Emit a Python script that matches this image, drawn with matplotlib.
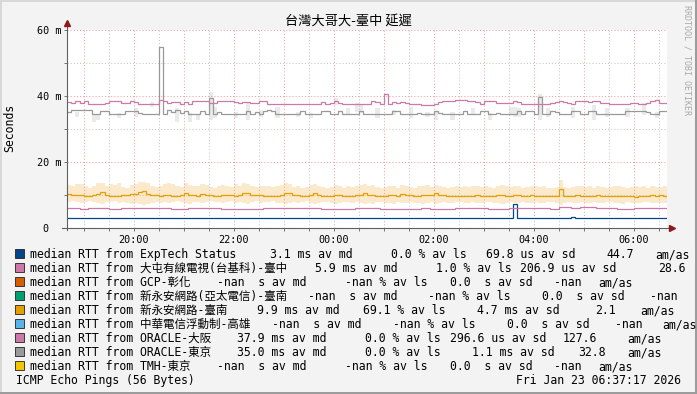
import matplotlib
matplotlib.use("Agg")
import matplotlib.pyplot as plt
import numpy as np
from matplotlib.patches import Rectangle

W, H = 697, 394
MONO = ["DejaVu Sans Mono", "Noto Sans CJK TC"]
plt.rcParams["font.family"] = MONO

# 5-minute steps from 18:40 to 06:40 (hours, >24 = next day)
t_start = 18 + 40 / 60
n_steps = 144

# ORACLE-東京 median (ms)
tokyo = [
    35.2, 35.8, 35.8, 35.8, 35.8, 35.8, 34.6, 34.4, 35.6, 35.6, 34.4, 34.4, 34.4, 34.4, 35.6, 35.6, 35.6, 34.8, 34.6, 34.6, 34.6, 34.4, 55.0, 34.6,
    35.8, 35.2, 35.8, 35.0, 35.4, 34.6, 34.4, 34.6, 35.6, 34.6, 39.4, 34.6, 35.2, 34.4, 34.4, 34.6, 34.4, 34.4, 34.6, 35.6, 34.6, 35.2, 34.4, 35.6,
    35.8, 35.6, 34.6, 34.4, 34.4, 34.4, 34.4, 34.6, 35.6, 34.6, 34.6, 34.4, 34.4, 35.4, 35.4, 34.6, 34.6, 35.4, 34.4, 34.4, 34.6, 34.6, 35.4, 34.4,
    34.4, 34.6, 34.4, 34.4, 34.4, 34.4, 35.6, 35.6, 34.6, 34.4, 34.4, 34.4, 35.0, 34.4, 34.4, 34.4, 35.6, 35.0, 34.4, 34.4, 34.4, 34.4, 34.4, 35.4,
    34.4, 34.4, 34.4, 35.6, 35.6, 34.6, 34.6, 35.0, 34.4, 34.4, 34.4, 34.4, 35.6, 34.6, 35.6, 35.6, 34.6, 39.8, 34.6, 34.6, 35.4, 35.2, 34.6, 34.6,
    34.6, 35.6, 35.6, 34.6, 34.6, 35.6, 35.6, 34.4, 34.6, 34.6, 34.4, 34.4, 34.4, 34.6, 35.4, 35.6, 35.6, 35.6, 35.6, 35.2, 34.4, 34.6, 35.4, 35.4,
]
# ORACLE-東京 smoke bars: step index, low, high (ms)
tokyo_smoke_idx = [2, 6, 7, 12, 16, 20, 26, 29, 31, 34, 35, 40, 43, 46, 50, 55, 58, 64, 67, 69,
                   70, 74, 78, 82, 86, 88, 92, 97, 101, 106, 107, 108, 113, 115, 121, 126, 129, 134, 138, 141]
tokyo_smoke_lo = [33.7, 32.2, 32.7, 33.2, 33.7, 36.8, 32.2, 32.2, 32.7, 32.7, 33.2, 33.2, 32.7, 33.7, 33.2, 33.7, 33.2, 37.3, 34.2, 35.3,
                  34.8, 33.2, 34.2, 33.2, 33.7, 32.7, 32.7, 34.2, 32.7, 34.2, 33.7, 33.7, 32.6, 33.7, 33.2, 32.7, 33.7, 33.7, 34.2, 33.2]
tokyo_smoke_hi = [35.3, 34.2, 34.2, 34.8, 36.3, 38.3, 36.3, 34.8, 34.2, 41.3, 36.8, 35.3, 37.8, 35.8, 36.8, 35.3, 34.8, 39.3, 36.3, 37.8,
                  37.3, 36.3, 35.8, 36.8, 35.3, 35.3, 35.3, 36.3, 34.8, 36.8, 36.8, 36.3, 40.7, 36.3, 36.8, 37.3, 36.3, 36.3, 37.8, 35.3]

# ORACLE-大阪 median (ms)
osaka = [
    38.3, 37.9, 38.6, 38.0, 38.6, 37.7, 37.5, 37.5, 37.6, 38.0, 38.6, 38.6, 38.6, 38.0, 38.0, 38.6, 38.3, 37.7, 37.6, 37.6, 37.6, 37.6, 38.7, 38.6,
    38.0, 38.3, 38.3, 37.7, 38.3, 37.6, 38.6, 38.6, 38.6, 38.6, 38.0, 38.0, 38.6, 38.6, 38.6, 38.6, 38.3, 38.0, 38.3, 38.3, 38.0, 38.0, 38.6, 38.6,
    37.7, 37.7, 37.7, 37.7, 37.7, 37.7, 37.7, 37.7, 37.7, 37.7, 37.7, 37.7, 37.7, 38.3, 37.7, 38.0, 38.6, 38.0, 37.7, 37.5, 37.7, 37.7, 37.7, 37.7,
    37.7, 38.6, 38.3, 37.7, 40.5, 37.7, 38.3, 38.0, 38.3, 38.0, 37.7, 37.7, 37.7, 37.3, 37.3, 37.3, 37.7, 38.3, 38.6, 38.6, 38.6, 38.7, 38.7, 38.7,
    38.6, 38.6, 38.3, 37.7, 38.6, 38.6, 38.6, 37.9, 37.9, 37.9, 37.9, 38.5, 38.3, 37.7, 37.7, 37.5, 37.5, 37.5, 37.5, 37.5, 38.0, 38.3, 38.6, 38.3,
    38.0, 37.7, 38.6, 38.6, 38.6, 38.3, 38.6, 38.6, 38.0, 38.0, 37.7, 37.7, 37.7, 37.7, 37.7, 37.9, 37.9, 37.7, 37.7, 37.9, 38.6, 38.7, 38.0, 38.0,
]

# 新永安網路-臺南 median and smoke (ms)
tainan = [
    10.3, 10.0, 10.0, 10.0, 9.7, 9.7, 10.0, 10.3, 11.0, 10.0, 9.7, 9.7, 9.7, 10.0, 10.0, 10.4, 10.4, 10.8, 11.2, 10.4, 10.0, 10.0, 9.7, 10.0,
    10.0, 9.7, 9.7, 10.0, 10.6, 10.0, 10.0, 9.7, 10.3, 10.0, 10.0, 9.7, 9.7, 10.0, 10.0, 10.0, 9.7, 10.0, 10.7, 10.7, 10.0, 10.0, 10.0, 9.7,
    9.7, 9.7, 9.7, 10.0, 10.6, 10.6, 10.0, 10.0, 9.7, 9.7, 10.0, 10.6, 10.0, 9.7, 9.7, 9.7, 10.0, 10.0, 9.7, 9.7, 9.7, 10.0, 10.0, 10.6,
    10.0, 10.0, 9.7, 9.7, 9.7, 10.0, 10.0, 9.7, 10.3, 10.0, 10.0, 9.7, 9.7, 10.0, 10.0, 10.0, 10.6, 10.0, 10.0, 9.7, 9.7, 9.7, 9.7, 9.7,
    9.7, 9.7, 10.0, 9.7, 9.7, 9.7, 9.7, 10.0, 10.0, 9.7, 9.7, 10.0, 10.0, 9.7, 9.7, 10.0, 9.7, 9.7, 9.7, 9.7, 9.7, 9.7, 11.8, 9.7,
    9.7, 9.7, 10.0, 9.7, 9.7, 9.7, 9.7, 10.0, 9.7, 9.7, 9.7, 9.7, 9.7, 9.7, 9.7, 9.7, 9.4, 9.7, 9.7, 9.7, 10.0, 9.7, 10.0, 9.7,
]
tainan_hi = [
    13.0, 12.6, 13.3, 13.3, 12.6, 12.0, 12.8, 13.6, 13.6, 12.6, 13.3, 13.0, 13.6, 12.3, 12.0, 13.0, 13.3, 14.0, 14.0, 13.6, 12.6, 12.3, 12.6, 13.3,
    13.6, 13.3, 12.6, 12.3, 13.6, 13.0, 12.6, 12.6, 13.3, 13.0, 12.3, 12.0, 12.6, 13.0, 12.6, 12.3, 13.3, 12.6, 13.6, 13.3, 12.6, 12.3, 12.6, 12.6,
    12.6, 12.3, 12.6, 13.0, 13.6, 13.3, 12.3, 12.6, 12.0, 12.3, 13.0, 13.3, 12.6, 12.3, 12.0, 12.3, 13.0, 12.6, 12.0, 12.6, 12.3, 12.6, 13.0, 13.3,
    12.6, 13.0, 12.3, 12.0, 12.3, 12.6, 12.6, 12.0, 13.0, 12.6, 12.3, 12.0, 12.6, 12.6, 13.0, 12.3, 13.0, 12.6, 12.3, 12.0, 12.3, 12.6, 12.3, 12.6,
    12.3, 12.6, 12.6, 12.3, 12.6, 12.3, 12.0, 12.6, 13.0, 12.6, 12.3, 12.6, 12.6, 12.0, 12.3, 12.6, 12.6, 12.3, 12.6, 12.0, 12.0, 12.3, 14.6, 12.3,
    12.0, 12.3, 12.6, 12.6, 12.3, 12.6, 12.0, 12.6, 12.3, 12.0, 12.3, 12.6, 12.6, 12.3, 12.0, 12.3, 12.6, 12.3, 12.6, 12.0, 12.6, 12.3, 12.3, 12.6,
]
tainan_lo = [
    8.0, 8.3, 8.0, 7.7, 8.0, 8.3, 8.0, 7.7, 7.4, 8.0, 8.0, 8.3, 7.7, 8.0, 7.7, 7.4, 7.7, 7.4, 7.0, 7.4, 7.7, 8.0, 7.7, 8.0,
    7.7, 8.0, 8.3, 8.0, 7.7, 7.4, 8.0, 8.0, 7.7, 8.0, 8.3, 8.0, 8.0, 7.7, 8.0, 8.3, 7.7, 8.0, 7.7, 7.4, 8.0, 8.3, 7.7, 8.0,
    8.0, 8.3, 7.7, 7.7, 7.4, 7.7, 8.0, 7.7, 8.0, 8.3, 7.7, 7.4, 7.7, 8.0, 8.0, 7.7, 7.4, 7.7, 8.0, 8.0, 7.7, 8.0, 7.7, 7.4,
    7.7, 7.4, 8.0, 8.0, 7.7, 7.7, 7.4, 8.0, 7.7, 7.7, 8.0, 7.7, 7.7, 7.4, 7.7, 8.0, 7.4, 7.7, 8.0, 7.7, 7.7, 8.0, 8.0, 7.7,
    7.7, 8.0, 7.7, 7.7, 8.0, 8.0, 7.7, 7.7, 7.4, 7.7, 8.0, 7.7, 7.7, 8.0, 7.7, 7.7, 8.0, 7.7, 7.7, 8.0, 8.0, 7.7, 7.0, 7.7,
    8.0, 7.7, 7.7, 8.0, 7.7, 7.7, 8.0, 7.7, 7.7, 8.0, 8.0, 7.7, 7.7, 7.4, 8.0, 7.7, 7.7, 7.7, 8.0, 8.0, 7.7, 7.7, 7.7, 7.7,
]

# 大屯有線電視 median, as (level, number of steps)
datun_levels = [6.0, 5.7, 6.0, 5.7, 6.0, 5.7, 6.0, 5.7, 6.0, 5.7, 6.0, 5.7, 6.0, 5.7, 6.0, 5.7, 6.0, 5.7, 6.3, 6.0, 6.3, 6.0, 5.7, 6.0]
datun_runs = [3, 2, 5, 3, 12, 4, 8, 10, 14, 8, 6, 10, 2, 6, 8, 5, 10, 2, 3, 2, 4, 5, 4, 8]

# ExpTech Status median, as (level, number of steps)
exptech_levels = [2.95, 7.2, 2.95, 3.3, 2.95]
exptech_runs = [107, 1, 13, 1, 22]

# legend
names = ["ExpTech Status", "大屯有線電視(台基科)-臺中", "GCP-彰化", "新永安網路(亞太電信)-臺南",
         "新永安網路-臺南", "中華電信浮動制-高雄", "ORACLE-大阪", "ORACLE-東京", "TMH-東京"]
colors = ["#00468c", "#cc79a7", "#d55e00", "#009e73", "#e69f00", "#56b4e9", "#cc79a7", "#999999", "#f5c400"]
md_vals = ["3.1 ms", "5.9 ms", "-nan  s", "-nan  s", "9.9 ms", "-nan  s", "37.9 ms", "35.0 ms", "-nan  s"]
ls_vals = ["0.0", "1.0", "-nan", "-nan", "69.1", "-nan", "0.0", "0.0", "-nan"]
sd_vals = ["69.8 us", "206.9 us", "0.0  s", "0.0  s", "4.7 ms", "0.0  s", "296.6 us", "1.1 ms", "0.0  s"]
amas_vals = ["44.7", "28.6", "-nan", "-nan", "2.1", "-nan", "127.6", "32.8", "-nan"]

# pixel x of each legend column, per row (None = cut off at image edge)
md_x = [270, 315, 217, 308, 257, 272, 237, 237, 217]
ls_x = [391, 436, 345, 428, 363, 393, 365, 365, 345]
sd_x = [486, 520, 450, 542, 477, 507, 450, 472, 450]
am_x = [606, 658, 554, 650, 595, 615, 563, 578, 554]
as_x = [655, None, 598, None, 640, 662, 627, 627, 598]

edges = t_start + np.arange(n_steps + 1) / 12


def fx(x):
    return x / W


def fy(y):
    return 1 - y / H


fig = plt.figure(figsize=(W / 100, H / 100), dpi=100)
fig.patch.set_facecolor("#f3f3f3")

ax = fig.add_axes([fx(67), fy(228), 600 / W, 198 / H])
ax.set_facecolor("white")
ax.set_axisbelow("line")

# smoke
ax.stairs(tainan_hi, edges, baseline=tainan_lo, fill=True, color="#fbe9cb", lw=0, zorder=1)
ax.bar(edges[tokyo_smoke_idx], np.array(tokyo_smoke_hi) - np.array(tokyo_smoke_lo),
       bottom=tokyo_smoke_lo, width=1 / 12, align="edge", color="#eaeaea", lw=0, zorder=1)

# medians
lw = 0.9
ax.stairs(np.repeat(exptech_levels, exptech_runs), edges, baseline=None, color=colors[0], lw=lw, zorder=3)
ax.stairs(np.repeat(datun_levels, datun_runs), edges, baseline=None, color=colors[1], lw=lw, zorder=3)
ax.stairs(tainan, edges, baseline=None, color=colors[4], lw=lw, zorder=3)
ax.stairs(tokyo, edges, baseline=None, color=colors[7], lw=lw, zorder=3)
ax.stairs(osaka, edges, baseline=None, color=colors[6], lw=lw, zorder=3)

ax.set_xlim(t_start, t_start + 12)
ax.set_ylim(0, 60)

hours = np.arange(19, 31)
ax.set_xticks(hours)
ax.set_xticklabels([f"{h % 24:02d}:00" if h % 2 == 0 else "" for h in hours])
ax.set_xticks(np.arange(19.5, 31, 1.0), minor=True)
ax.set_yticks([0, 20, 40, 60])
ax.set_yticklabels(["0  ", "20 m", "40 m", "60 m"])
ax.set_yticks([10, 30, 50], minor=True)

dots = (0, (1, 2))
ax.grid(which="major", color="#f4a0a0", linestyle=dots, linewidth=0.75)
ax.grid(which="minor", color="#c6c6c6", linestyle=dots, linewidth=0.75)
ax.tick_params(which="both", length=2, width=0.6, color="#606060", labelsize=7.3, pad=2)
ax.tick_params(axis="x", pad=3)

for s in ax.spines.values():
    s.set_visible(False)
ax.plot([0, 0], [-0.012, 1.03], transform=ax.transAxes, color="#606060", lw=0.8, clip_on=False, zorder=4)
ax.plot([-0.008, 1.008], [0, 0], transform=ax.transAxes, color="#606060", lw=0.8, clip_on=False, zorder=4)
ax.plot([0], [1.035], transform=ax.transAxes, marker="^", ms=4, color="#8b1a1a", clip_on=False, zorder=5)
ax.plot([1.009], [0], transform=ax.transAxes, marker=">", ms=4, color="#8b1a1a", clip_on=False, zorder=5)

# titles
fig.text(fx(348.5), fy(21.5), "台灣大哥大-臺中 延遲", ha="center", va="center",
         fontsize=9.5, family=["Noto Sans CJK TC", "DejaVu Sans"])
fig.text(fx(10), fy(128), "Seconds", rotation=90, ha="center", va="center", fontsize=8.3)
fig.text(fx(687), fy(60), "RRDTOOL / TOBI OETIKER", rotation=270, ha="center", va="center",
         fontsize=6, color="#a9a9a9")

# legend
for i, name in enumerate(names):
    base = 258 + 14 * i
    fig.add_artist(Rectangle((fx(15), fy(base - 0.5)), 9 / W, 9 / H, transform=fig.transFigure,
                             facecolor=colors[i], edgecolor="#222222", lw=0.6))
    row = [(30, "median RTT from " + name),
           (md_x[i], md_vals[i] + " av md"),
           (ls_x[i], ls_vals[i] + " % av ls"),
           (sd_x[i], sd_vals[i] + " av sd"),
           (am_x[i], amas_vals[i])]
    if as_x[i] is not None:
        row.append((as_x[i], "am/as"))
    for x, s in row:
        fig.text(fx(x), fy(base), s, ha="left", va="baseline", fontsize=8.3)

fig.text(fx(16), fy(384), "ICMP Echo Pings (56 Bytes)", ha="left", va="baseline", fontsize=8.3)
fig.text(fx(681), fy(384), "Fri Jan 23 06:37:17 2026", ha="right", va="baseline", fontsize=8.3)

# 3d frame
for (x0, y0, w, h, c) in [(0, 0, W, 1.5, "#d8d8d8"), (0, 0, 1.5, H, "#d8d8d8"),
                          (0, H - 2.5, W, 2.5, "#9c9c9c"), (W - 2.5, 0, 2.5, H, "#9c9c9c")]:
    fig.add_artist(Rectangle((fx(x0), fy(y0 + h)), w / W, h / H, transform=fig.transFigure,
                             facecolor=c, lw=0))

fig.savefig("out.png", dpi=100, facecolor=fig.get_facecolor())
